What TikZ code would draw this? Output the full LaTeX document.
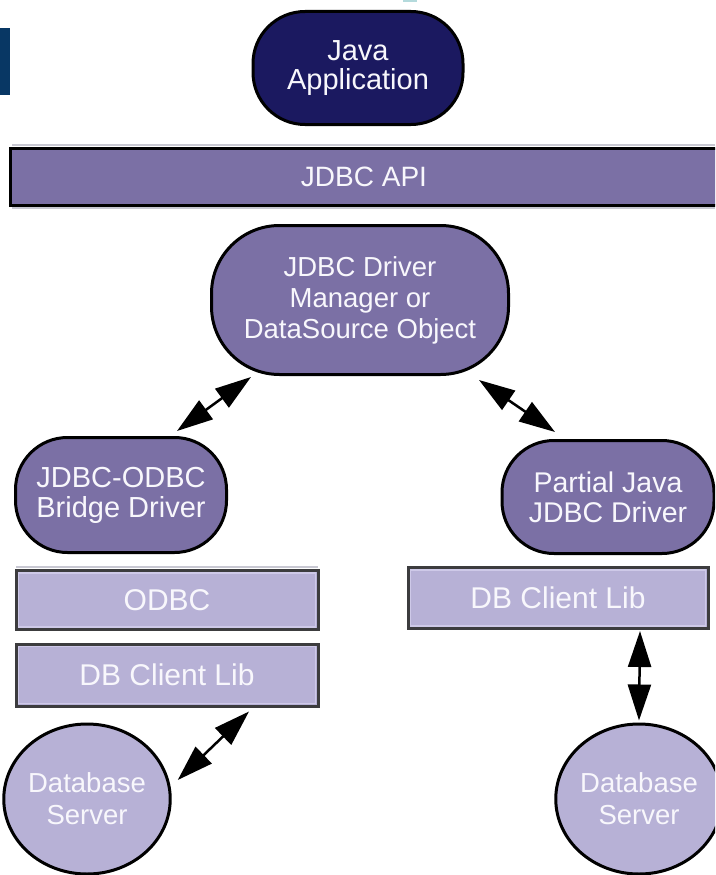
\documentclass[tikz,border=0pt]{standalone}
\usepackage{fontspec}
\setmainfont{Liberation Sans}
\usetikzlibrary{arrows.meta,shapes.geometric}

\definecolor{navyfill}{RGB}{27,25,96}
\definecolor{midpurple}{RGB}{123,112,165}
\definecolor{lavender}{RGB}{183,177,214}
\definecolor{lavlight}{RGB}{206,201,232}
\definecolor{boxedge}{RGB}{60,60,62}
\definecolor{sideblock}{RGB}{8,55,100}
\definecolor{paleteal}{RGB}{180,218,220}
\definecolor{hairline}{RGB}{200,200,210}
\definecolor{labelwhite}{RGB}{248,247,252}

\begin{document}
\begin{tikzpicture}[x=1pt,y=-1pt,
  lbl/.style={text=labelwhite, align=center, inner sep=0pt, font=\fontsize{28}{31}\selectfont},
  pill/.style={lbl, rectangle, draw=black, line width=3pt},
  apppill/.style={pill, fill=navyfill, rounded corners=52pt},
  drvpill/.style={pill, fill=midpurple},
  libbox/.style={lbl, rectangle, fill=lavender, draw=boxedge, line width=3pt,
                 minimum width=302pt, minimum height=59pt, font=\fontsize{30}{32}\selectfont},
  server/.style={lbl, ellipse, fill=lavender, draw=black, line width=3pt,
                 minimum width=150pt, minimum height=150pt},
  inset/.style={draw=lavlight, line width=1.5pt},
  dbl/.style={line width=2.5pt,
              {Triangle[length=36pt,width=23pt]}-{Triangle[length=36pt,width=23pt]}}
]
\useasboundingbox (0,0) rectangle (715,875);
\clip (0,0) rectangle (715,875);

% page furniture
\fill[sideblock] (0,28) rectangle (10,95);
\fill[paleteal] (403,0) rectangle (417,2);

% top of the stack
\node[apppill, minimum width=210pt, minimum height=113pt,
      font=\fontsize{29}{29}\selectfont] (app) at (358,68)
  {Java\\Application};

\draw[hairline, line width=1.5pt] (12,145) -- (715,145);
\draw[hairline, line width=1.5pt] (12,208) -- (715,208);
\node[lbl, rectangle, fill=midpurple, draw=black, line width=3pt,
      minimum width=715pt, minimum height=57pt] (api) at (367.5,176.5)
  {\hspace*{-7pt}JDBC API};

% driver manager
\node[drvpill, rounded corners=68pt, minimum width=297pt, minimum height=149pt,
      font=\fontsize{27.5}{31}\selectfont] (mgr) at (360,300)
  {JDBC Driver\\Manager or\\DataSource Object};

% drivers
\node[drvpill, rounded corners=52pt, minimum width=211pt, minimum height=115pt,
      font=\fontsize{29}{30}\selectfont] (bridge) at (121,495)
  {JDBC-ODBC\\Bridge Driver};
\node[drvpill, rounded corners=52pt, minimum width=212pt, minimum height=113pt,
      font=\fontsize{28.5}{30}\selectfont] (partial) at (608,497)
  {Partial Java\\JDBC Driver};

% client libraries
\draw[hairline, line width=1.5pt] (16,567) -- (318,567);
\node[libbox] (odbc) at (167,600) {ODBC};
\node[libbox, minimum height=62pt] (libL) at (167,675) {DB Client Lib};
\node[libbox, minimum width=300pt, minimum height=61pt] (libR) at (558,598) {DB Client Lib};
\foreach \b in {odbc,libL,libR}
  \draw[inset] ([xshift=4pt,yshift=-4pt]\b.north west) rectangle ([xshift=-4pt,yshift=4pt]\b.south east);

% database servers
\node[server, font=\fontsize{27.5}{32}\selectfont] (srvL) at (87,799) {Database\\Server};
\node[server, font=\fontsize{27.5}{32}\selectfont] (srvR) at (639,799) {Database\\Server};

% two-way links
\draw[dbl] ([xshift=56pt,yshift=5pt]bridge.north) -- ([xshift=-109pt,yshift=-1pt]mgr.south);
\draw[dbl] ([xshift=119pt,yshift=-4pt]mgr.south) -- ([xshift=-53pt,yshift=7pt]partial.north);
\draw[dbl] ([xshift=82pt,yshift=-4pt]libL.south) -- ([xshift=6pt,yshift=19pt]srvL.east);
\draw[dbl] ([xshift=82pt,yshift=-1pt]libR.south) -- ([yshift=2pt]srvR.north);
\end{tikzpicture}
\end{document}
